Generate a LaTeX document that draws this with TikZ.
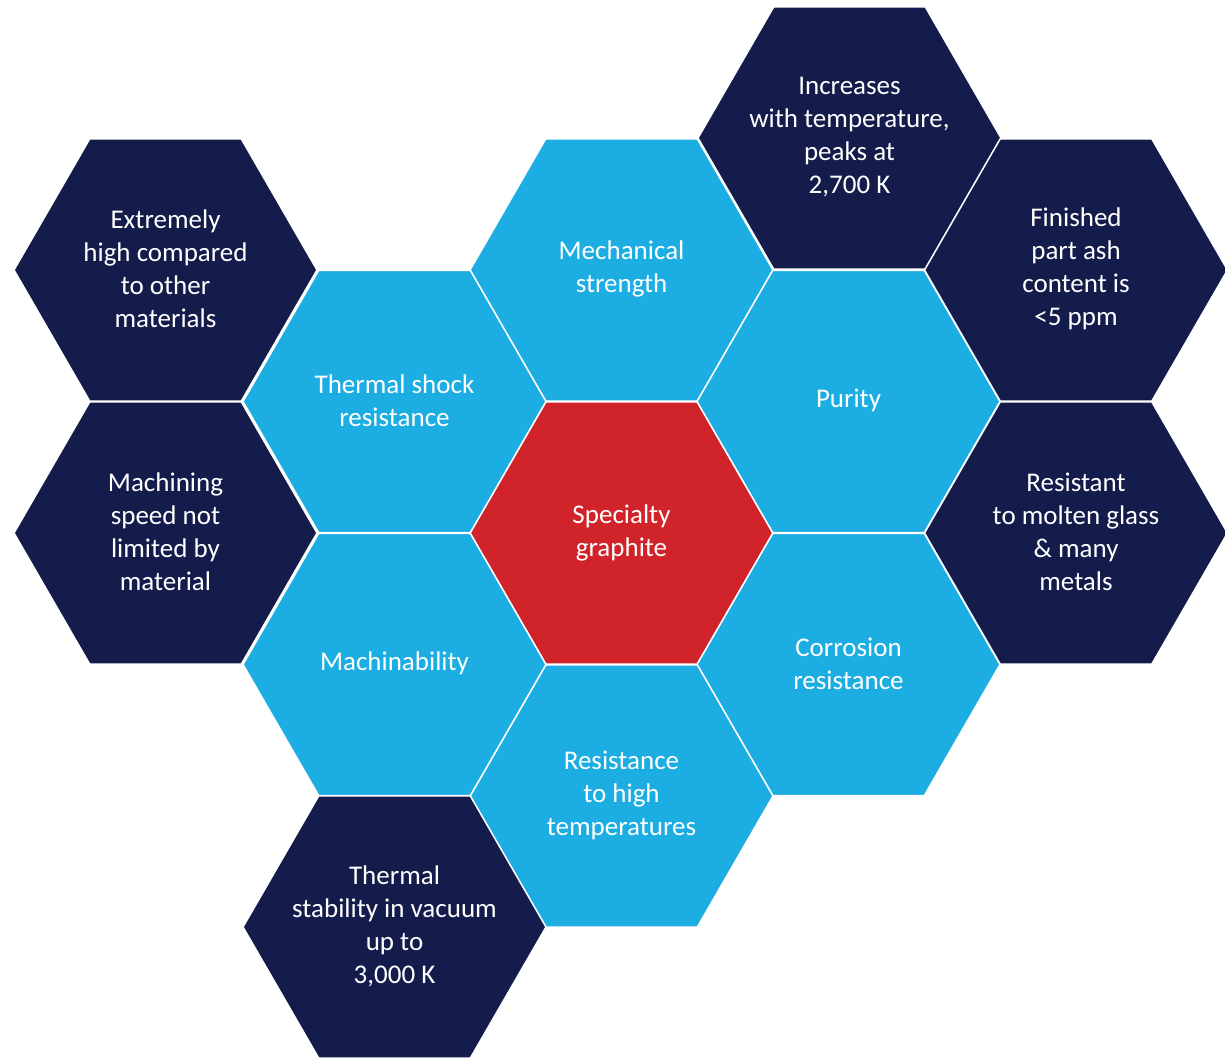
\documentclass[tikz,border=0pt]{standalone}
\usepackage{fontspec}
\setmainfont{Carlito}
\usetikzlibrary{shapes.geometric}
\definecolor{hexred}{HTML}{D0232A}
\definecolor{hexblue}{HTML}{1CADE3}
\definecolor{hexnavy}{HTML}{141C4B}
\tikzset{
  hexbase/.style={regular polygon, regular polygon sides=6, minimum size=303pt,
    inner sep=0pt, outer sep=0pt, draw=white, line width=1.5pt},
  hexcore/.style={hexbase, fill=hexred},
  hexprop/.style={hexbase, fill=hexblue},
  hexinfo/.style={hexbase, fill=hexnavy},
  hextext/.style={text=white, align=center, inner sep=0pt,
    font=\fontsize{27}{33}\selectfont},
}
\begin{document}
\begin{tikzpicture}[x=1pt,y=-1pt]
\useasboundingbox (0,0) rectangle (1225,1059);
\clip (0,0) rectangle (1225,1059);
% centre
\node[hexcore] (core) at (621.5,533) {};
% properties
\node[hexprop] (mech) at (621.5,270) {};
\node[hexprop] (pur) at (848.5,401.5) {};
\node[hexprop] (corr) at (848.5,664.5) {};
\node[hexprop] (hight) at (621.5,796) {};
\node[hexprop] (mach) at (394.5,664.5) {};
\node[hexprop] (tsr) at (394.5,401.5) {};
% details
\node[hexinfo] (dmech) at (849.5,138) {};
\node[hexinfo] (dpur) at (1076,270) {};
\node[hexinfo] (dcorr) at (1076,533) {};
\node[hexinfo] (dtsr) at (165.5,270) {};
\node[hexinfo] (dmach) at (165.5,533) {};
\node[hexinfo] (dhigh) at (394.5,927) {};
% texts
\node[hextext] (tcore) at (core) {Specialty\\graphite};
\node[hextext] (tmech) at ([yshift=1pt]mech) {Mechanical\\strength};
\node[hextext] (tpur) at ([yshift=1pt]pur) {Purity};
\node[hextext] (tcorr) at ([yshift=1pt]corr) {Corrosion\\resistance};
\node[hextext] (thight) at ([yshift=1pt]hight) {Resistance\\to high\\temperatures};
\node[hextext] (tmach) at ([yshift=1pt]mach) {Machinability};
\node[hextext] (ttsr) at ([yshift=1pt]tsr) {Thermal shock\\resistance};
\node[hextext] (tdmech) at ([yshift=1pt]dmech) {Increases\\with temperature,\\peaks at\\2,700 K};
\node[hextext] (tdpur) at ([yshift=1pt]dpur) {Finished\\part ash\\content is\\<5 ppm};
\node[hextext] (tdcorr) at ([yshift=1pt]dcorr) {Resistant\\to molten glass\\\& many\\metals};
\node[hextext] (tdtsr) at ([yshift=1pt]dtsr) {Extremely\\high compared\\to other\\materials};
\node[hextext] (tdmach) at ([yshift=1pt]dmach) {Machining\\speed not\\limited by\\material};
\node[hextext] (tdhigh) at ([yshift=1pt]dhigh) {Thermal\\stability in vacuum\\up to\\3,000 K};
\end{tikzpicture}
\end{document}
